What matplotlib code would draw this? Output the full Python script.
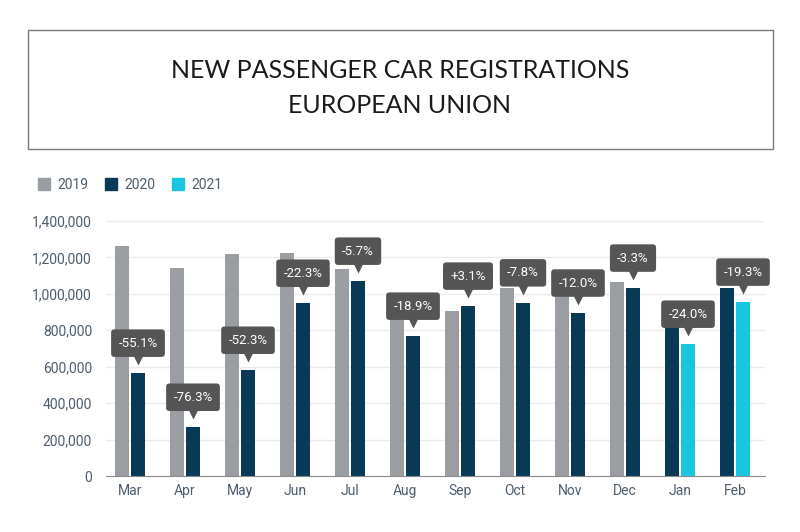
import matplotlib
matplotlib.use("Agg")
import matplotlib.pyplot as plt
from matplotlib.patches import Rectangle, Patch
from matplotlib.transforms import offset_copy
from matplotlib.ticker import FuncFormatter

# data
months = ["Mar", "Apr", "May", "Jun", "Jul", "Aug", "Sep", "Oct", "Nov", "Dec", "Jan", "Feb"]
reg_2019 = [1264000, 1143000, 1220000, 1225000, 1137000, 949000, 907000, 1033000, 1018000, 1066000]
# Mar-Dec 2020, then Jan-Feb 2020
reg_2020 = [566000, 269000, 582000, 950000, 1071000, 769000, 934000, 952000, 896000, 1033000, 954000, 1033000]
reg_2021 = [725000, 956000]
changes = ["-55.1%", "-76.3%", "-52.3%", "-22.3%", "-5.7%", "-18.9%", "+3.1%", "-7.8%",
           "-12.0%", "-3.3%", "-24.0%", "-19.3%"]

C19 = "#9a9da1"
C20 = "#083a58"
C21 = "#19c6e0"
TXT = "#4d5d6c"
BOX = "#555555"
W, H = 800, 532
PX = 0.72  # points per pixel at dpi 100

fig = plt.figure(figsize=(8, 5.32), dpi=100)

# title box
fig.patches.append(Rectangle((28 / W, 1 - 149 / H), (773 - 28) / W, (149 - 30) / H,
                             transform=fig.transFigure, fill=False, ec="#7a7a7a", lw=1))
fig.text(0.5, 1 - 70 / H, "NEW PASSENGER CAR REGISTRATIONS", ha="center", va="center",
         fontsize=18, family="Lato", color="#1a1a1a")
fig.text(0.5, 1 - 105 / H, "EUROPEAN UNION", ha="center", va="center",
         fontsize=18, family="Lato", color="#1a1a1a")

ax = fig.add_axes([106 / W, 1 - 476 / H, (765 - 106) / W, (476 - 221) / H])
sp = 55.0
off = 8 / sp
bw = 14 / sp

n_old = len(reg_2019)
x_old = list(range(n_old))
x_new = list(range(n_old, len(months)))

ax.bar([x - off for x in x_old], reg_2019, bw, color=C19, zorder=2)
ax.bar([x + off for x in x_old], reg_2020[:n_old], bw, color=C20, zorder=2)
ax.bar([x - off for x in x_new], reg_2020[n_old:], bw, color=C20, zorder=2)
ax.bar([x + off for x in x_new], reg_2021, bw, color=C21, zorder=2)

# change callouts above the later-year bar
later = reg_2020[:n_old] + reg_2021
fs = 9.5
pad = 0.55
tri = offset_copy(ax.transData, fig=fig, x=0, y=13 * PX, units="points")
for i, (v, lab) in enumerate(zip(later, changes)):
    ax.annotate(lab, xy=(i + off, v), xytext=(0, 16 * PX + pad * fs), textcoords="offset points",
                ha="center", va="bottom", fontsize=fs, family="Roboto", color="white",
                bbox=dict(boxstyle=f"round,pad={pad},rounding_size=0.25", fc=BOX, ec="none"),
                zorder=5, annotation_clip=False)
    ax.plot([i + off], [v], marker="v", ms=7, color=BOX, mec="none",
            transform=tri, clip_on=False, zorder=5)

ax.set_xlim(-24 / sp, 11 + 30 / sp)
ax.set_ylim(0, 1400000)
ax.set_yticks(range(0, 1400001, 200000))
ax.yaxis.set_major_formatter(FuncFormatter(lambda v, p: f"{int(v):,}"))
ax.set_xticks(range(len(months)))
ax.set_xticklabels(months)
ax.grid(axis="y", color="#ebebeb", lw=1, zorder=0)
for s in ["top", "right", "left"]:
    ax.spines[s].set_visible(False)
ax.spines["bottom"].set_color("#8a8a8a")
ax.tick_params(axis="both", length=0, labelsize=10, labelcolor=TXT)
ax.tick_params(axis="y", pad=10)
ax.tick_params(axis="x", pad=6)
for t in ax.get_xticklabels() + ax.get_yticklabels():
    t.set_family("Roboto")

handles = [Patch(color=C19, label="2019"), Patch(color=C20, label="2020"), Patch(color=C21, label="2021")]
leg = fig.legend(handles=handles, loc="center left", bbox_to_anchor=(25 / W, 1 - 185 / H),
                 ncol=3, frameon=False, handlelength=0.9, handleheight=0.9, handletextpad=0.5,
                 columnspacing=1.2, prop={"family": "Roboto", "size": 10})
for t in leg.get_texts():
    t.set_color(TXT)

fig.savefig("out.png", dpi=100, facecolor="white")
